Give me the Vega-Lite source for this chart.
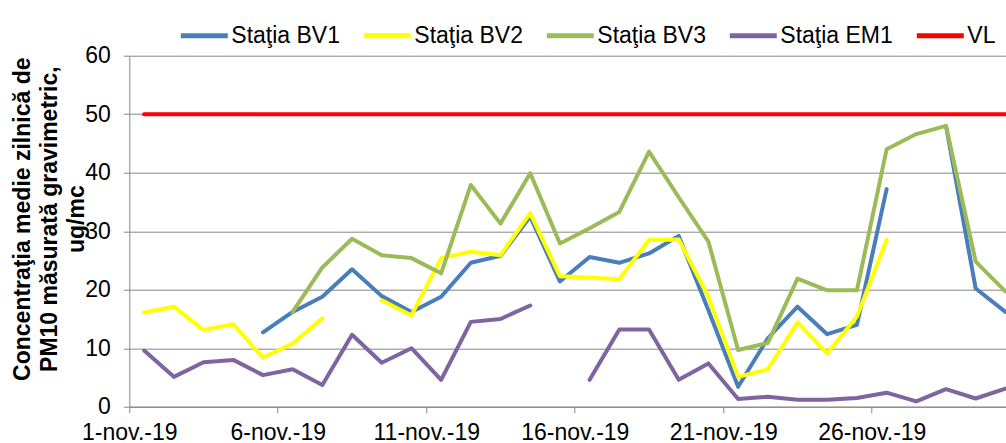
{
  "$schema": "https://vega.github.io/schema/vega-lite/v6.json",
  "width": 876.7,
  "height": 351,
  "autosize": {"type": "none"},
  "padding": {"left": 129.3, "top": 55.7, "right": 0, "bottom": 36.3},
  "config": {"view": {"stroke": null}, "font": "Liberation Sans"},
  "data": {"values": [
    {"series": "Staţia BV1", "seg": "a", "day": 5, "value": 12.7},
    {"series": "Staţia BV1", "seg": "a", "day": 6, "value": 16.2},
    {"series": "Staţia BV1", "seg": "a", "day": 7, "value": 18.8},
    {"series": "Staţia BV1", "seg": "a", "day": 8, "value": 23.5},
    {"series": "Staţia BV1", "seg": "a", "day": 9, "value": 18.9},
    {"series": "Staţia BV1", "seg": "a", "day": 10, "value": 16.2},
    {"series": "Staţia BV1", "seg": "a", "day": 11, "value": 18.8},
    {"series": "Staţia BV1", "seg": "a", "day": 12, "value": 24.6},
    {"series": "Staţia BV1", "seg": "a", "day": 13, "value": 25.8},
    {"series": "Staţia BV1", "seg": "a", "day": 14, "value": 32.5},
    {"series": "Staţia BV1", "seg": "a", "day": 15, "value": 21.4},
    {"series": "Staţia BV1", "seg": "a", "day": 16, "value": 25.6},
    {"series": "Staţia BV1", "seg": "a", "day": 17, "value": 24.6},
    {"series": "Staţia BV1", "seg": "a", "day": 18, "value": 26.2},
    {"series": "Staţia BV1", "seg": "a", "day": 19, "value": 29.2},
    {"series": "Staţia BV1", "seg": "a", "day": 20, "value": 16.5},
    {"series": "Staţia BV1", "seg": "a", "day": 21, "value": 3.4},
    {"series": "Staţia BV1", "seg": "a", "day": 22, "value": 11.7},
    {"series": "Staţia BV1", "seg": "a", "day": 23, "value": 17.1},
    {"series": "Staţia BV1", "seg": "a", "day": 24, "value": 12.4},
    {"series": "Staţia BV1", "seg": "a", "day": 25, "value": 14.0},
    {"series": "Staţia BV1", "seg": "a", "day": 26, "value": 37.2},
    {"series": "Staţia BV1", "seg": "b", "day": 28, "value": 48.0},
    {"series": "Staţia BV1", "seg": "b", "day": 29, "value": 20.2},
    {"series": "Staţia BV1", "seg": "b", "day": 30, "value": 16.2},
    {"series": "Staţia BV2", "seg": "a", "day": 1, "value": 16.1},
    {"series": "Staţia BV2", "seg": "a", "day": 2, "value": 17.1},
    {"series": "Staţia BV2", "seg": "a", "day": 3, "value": 13.1},
    {"series": "Staţia BV2", "seg": "a", "day": 4, "value": 14.1},
    {"series": "Staţia BV2", "seg": "a", "day": 5, "value": 8.4},
    {"series": "Staţia BV2", "seg": "a", "day": 6, "value": 10.8},
    {"series": "Staţia BV2", "seg": "a", "day": 7, "value": 15.1},
    {"series": "Staţia BV2", "seg": "b", "day": 9, "value": 18.2},
    {"series": "Staţia BV2", "seg": "b", "day": 10, "value": 15.6},
    {"series": "Staţia BV2", "seg": "b", "day": 11, "value": 25.4},
    {"series": "Staţia BV2", "seg": "b", "day": 12, "value": 26.5},
    {"series": "Staţia BV2", "seg": "b", "day": 13, "value": 25.9},
    {"series": "Staţia BV2", "seg": "b", "day": 14, "value": 33.1},
    {"series": "Staţia BV2", "seg": "b", "day": 15, "value": 22.3},
    {"series": "Staţia BV2", "seg": "b", "day": 16, "value": 22.1},
    {"series": "Staţia BV2", "seg": "b", "day": 17, "value": 21.8},
    {"series": "Staţia BV2", "seg": "b", "day": 18, "value": 28.5},
    {"series": "Staţia BV2", "seg": "b", "day": 19, "value": 28.6},
    {"series": "Staţia BV2", "seg": "b", "day": 20, "value": 18.8},
    {"series": "Staţia BV2", "seg": "b", "day": 21, "value": 5.1},
    {"series": "Staţia BV2", "seg": "b", "day": 22, "value": 6.4},
    {"series": "Staţia BV2", "seg": "b", "day": 23, "value": 14.4},
    {"series": "Staţia BV2", "seg": "b", "day": 24, "value": 9.1},
    {"series": "Staţia BV2", "seg": "b", "day": 25, "value": 15.4},
    {"series": "Staţia BV2", "seg": "b", "day": 26, "value": 28.5},
    {"series": "Staţia BV3", "seg": "a", "day": 6, "value": 16.2},
    {"series": "Staţia BV3", "seg": "a", "day": 7, "value": 23.8},
    {"series": "Staţia BV3", "seg": "a", "day": 8, "value": 28.7},
    {"series": "Staţia BV3", "seg": "a", "day": 9, "value": 25.9},
    {"series": "Staţia BV3", "seg": "a", "day": 10, "value": 25.4},
    {"series": "Staţia BV3", "seg": "a", "day": 11, "value": 22.8},
    {"series": "Staţia BV3", "seg": "a", "day": 12, "value": 37.9},
    {"series": "Staţia BV3", "seg": "a", "day": 13, "value": 31.3},
    {"series": "Staţia BV3", "seg": "a", "day": 14, "value": 39.9},
    {"series": "Staţia BV3", "seg": "a", "day": 15, "value": 27.9},
    {"series": "Staţia BV3", "seg": "a", "day": 16, "value": 30.5},
    {"series": "Staţia BV3", "seg": "a", "day": 17, "value": 33.3},
    {"series": "Staţia BV3", "seg": "a", "day": 18, "value": 43.6},
    {"series": "Staţia BV3", "seg": "a", "day": 19, "value": 35.8},
    {"series": "Staţia BV3", "seg": "a", "day": 20, "value": 28.2},
    {"series": "Staţia BV3", "seg": "a", "day": 21, "value": 9.7},
    {"series": "Staţia BV3", "seg": "a", "day": 22, "value": 10.9},
    {"series": "Staţia BV3", "seg": "a", "day": 23, "value": 21.9},
    {"series": "Staţia BV3", "seg": "a", "day": 24, "value": 19.9},
    {"series": "Staţia BV3", "seg": "a", "day": 25, "value": 19.9},
    {"series": "Staţia BV3", "seg": "a", "day": 26, "value": 44.0},
    {"series": "Staţia BV3", "seg": "a", "day": 27, "value": 46.6},
    {"series": "Staţia BV3", "seg": "a", "day": 28, "value": 48.0},
    {"series": "Staţia BV3", "seg": "a", "day": 29, "value": 24.8},
    {"series": "Staţia BV3", "seg": "a", "day": 30, "value": 19.7},
    {"series": "Staţia EM1", "seg": "a", "day": 1, "value": 9.6},
    {"series": "Staţia EM1", "seg": "a", "day": 2, "value": 5.1},
    {"series": "Staţia EM1", "seg": "a", "day": 3, "value": 7.6},
    {"series": "Staţia EM1", "seg": "a", "day": 4, "value": 8.0},
    {"series": "Staţia EM1", "seg": "a", "day": 5, "value": 5.4},
    {"series": "Staţia EM1", "seg": "a", "day": 6, "value": 6.4},
    {"series": "Staţia EM1", "seg": "a", "day": 7, "value": 3.7},
    {"series": "Staţia EM1", "seg": "a", "day": 8, "value": 12.3},
    {"series": "Staţia EM1", "seg": "a", "day": 9, "value": 7.5},
    {"series": "Staţia EM1", "seg": "a", "day": 10, "value": 10.0},
    {"series": "Staţia EM1", "seg": "a", "day": 11, "value": 4.6},
    {"series": "Staţia EM1", "seg": "a", "day": 12, "value": 14.5},
    {"series": "Staţia EM1", "seg": "a", "day": 13, "value": 15.0},
    {"series": "Staţia EM1", "seg": "a", "day": 14, "value": 17.3},
    {"series": "Staţia EM1", "seg": "b", "day": 16, "value": 4.6},
    {"series": "Staţia EM1", "seg": "b", "day": 17, "value": 13.2},
    {"series": "Staţia EM1", "seg": "b", "day": 18, "value": 13.2},
    {"series": "Staţia EM1", "seg": "b", "day": 19, "value": 4.6},
    {"series": "Staţia EM1", "seg": "b", "day": 20, "value": 7.4},
    {"series": "Staţia EM1", "seg": "b", "day": 21, "value": 1.3},
    {"series": "Staţia EM1", "seg": "b", "day": 22, "value": 1.7},
    {"series": "Staţia EM1", "seg": "b", "day": 23, "value": 1.2},
    {"series": "Staţia EM1", "seg": "b", "day": 24, "value": 1.2},
    {"series": "Staţia EM1", "seg": "b", "day": 25, "value": 1.5},
    {"series": "Staţia EM1", "seg": "b", "day": 26, "value": 2.4},
    {"series": "Staţia EM1", "seg": "b", "day": 27, "value": 0.9},
    {"series": "Staţia EM1", "seg": "b", "day": 28, "value": 3.0},
    {"series": "Staţia EM1", "seg": "b", "day": 29, "value": 1.4},
    {"series": "Staţia EM1", "seg": "b", "day": 30, "value": 3.1},
    {"series": "VL", "seg": "a", "day": 1, "value": 50},
    {"series": "VL", "seg": "a", "day": 2, "value": 50},
    {"series": "VL", "seg": "a", "day": 3, "value": 50},
    {"series": "VL", "seg": "a", "day": 4, "value": 50},
    {"series": "VL", "seg": "a", "day": 5, "value": 50},
    {"series": "VL", "seg": "a", "day": 6, "value": 50},
    {"series": "VL", "seg": "a", "day": 7, "value": 50},
    {"series": "VL", "seg": "a", "day": 8, "value": 50},
    {"series": "VL", "seg": "a", "day": 9, "value": 50},
    {"series": "VL", "seg": "a", "day": 10, "value": 50},
    {"series": "VL", "seg": "a", "day": 11, "value": 50},
    {"series": "VL", "seg": "a", "day": 12, "value": 50},
    {"series": "VL", "seg": "a", "day": 13, "value": 50},
    {"series": "VL", "seg": "a", "day": 14, "value": 50},
    {"series": "VL", "seg": "a", "day": 15, "value": 50},
    {"series": "VL", "seg": "a", "day": 16, "value": 50},
    {"series": "VL", "seg": "a", "day": 17, "value": 50},
    {"series": "VL", "seg": "a", "day": 18, "value": 50},
    {"series": "VL", "seg": "a", "day": 19, "value": 50},
    {"series": "VL", "seg": "a", "day": 20, "value": 50},
    {"series": "VL", "seg": "a", "day": 21, "value": 50},
    {"series": "VL", "seg": "a", "day": 22, "value": 50},
    {"series": "VL", "seg": "a", "day": 23, "value": 50},
    {"series": "VL", "seg": "a", "day": 24, "value": 50},
    {"series": "VL", "seg": "a", "day": 25, "value": 50},
    {"series": "VL", "seg": "a", "day": 26, "value": 50},
    {"series": "VL", "seg": "a", "day": 27, "value": 50},
    {"series": "VL", "seg": "a", "day": 28, "value": 50},
    {"series": "VL", "seg": "a", "day": 29, "value": 50},
    {"series": "VL", "seg": "a", "day": 30, "value": 50}
  ]},
  "mark": {"type": "line", "strokeWidth": 4, "strokeCap": "round", "strokeJoin": "round"},
  "encoding": {
    "x": {
      "field": "day", "type": "quantitative",
      "scale": {"domain": [0.5, 30.02], "nice": false, "zero": false},
      "axis": {
        "values": [0.5, 5.5, 10.5, 15.5, 20.5, 25.5],
        "labelExpr": "(datum.value + 0.5) + '-nov.-19'",
        "labelDx": 14.85,
        "grid": false,
        "tickSize": 6,
        "labelPadding": 9,
        "labelFontSize": 23,
        "labelFont": "Liberation Sans",
        "labelColor": "#000000",
        "labelFlush": false,
        "labelOverlap": false,
        "labelBound": false,
        "domainColor": "#868686",
        "tickColor": "#868686",
        "title": null
      }
    },
    "y": {
      "field": "value", "type": "quantitative",
      "scale": {"domain": [0, 60], "nice": false},
      "axis": {
        "values": [0, 10, 20, 30, 40, 50, 60],
        "grid": true,
        "gridColor": "#868686",
        "domainColor": "#868686",
        "tickColor": "#868686",
        "tickSize": 6,
        "labelPadding": 13,
        "labelFontSize": 23,
        "labelFont": "Liberation Sans",
        "labelColor": "#000000",
        "title": ["Concentraţia medie zilnică de", "PM10 măsurată gravimetric,", "ug/mc"],
        "titleFont": "Liberation Sans",
        "titleFontSize": 23,
        "titleFontWeight": "bold",
        "titleColor": "#000000",
        "titleAngle": 270,
        "titleAlign": "center",
        "titleBaseline": "alphabetic",
        "titleLineHeight": 27,
        "titleX": -100,
        "titleY": 163
      }
    },
    "color": {
      "field": "series", "type": "nominal",
      "scale": {
        "domain": ["Staţia BV1", "Staţia BV2", "Staţia BV3", "Staţia EM1", "VL"],
        "range": ["#4a7ebb", "#ffff00", "#9bbb59", "#8064a2", "#ff0000"]
      },
      "legend": {
        "title": null,
        "orient": "none",
        "direction": "horizontal",
        "legendX": 49,
        "legendY": -46,
        "symbolType": "stroke",
        "symbolSize": 2209,
        "symbolStrokeWidth": 5,
        "labelFontSize": 23,
        "labelFont": "Liberation Sans",
        "labelColor": "#000000",
        "labelOffset": 1,
        "columnPadding": 13,
        "labelLimit": 300
      }
    },
    "detail": {"field": "seg"}
  }
}
